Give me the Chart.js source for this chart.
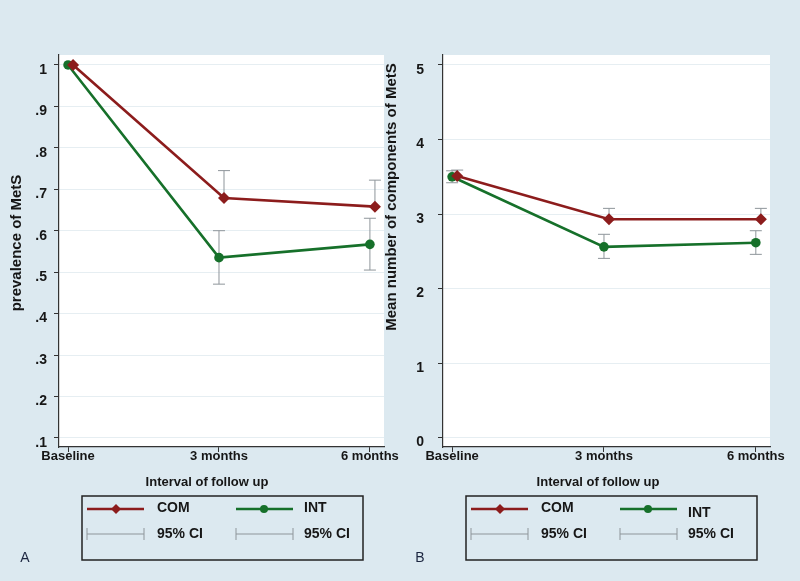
<!DOCTYPE html>
<html>
<head>
<meta charset="utf-8">
<title>MetS follow up</title>
<script src="https://cdn.jsdelivr.net/npm/chart.js@4.4.1/dist/chart.umd.min.js"></script>
<style>
  html, body { margin: 0; padding: 0; background: #dce9f0; }
  #wrap { position: relative; width: 800px; height: 581px; overflow: hidden; }
  canvas { position: absolute; top: 0; }
  #panelA { left: 0; }
  #panelB { left: 380px; }
</style>
</head>
<body>
<div id="wrap">
  <canvas id="panelA" width="420" height="581"></canvas>
  <canvas id="panelB" width="420" height="581"></canvas>
</div>
<script>
// ---- data ----
const categories = ["Baseline", "3 months", "6 months"];
const monthsX = [0, 3, 6];
const seriesNames = ["COM", "INT"];
const ciLabel = "95% CI";

// panel A: prevalence of MetS
const comPrev = [1.0, 0.679, 0.658];
const comPrevHi = [null, 0.745, 0.722];
const intPrev = [1.0, 0.535, 0.567];
const intPrevLo = [null, 0.471, 0.505];
const intPrevHi = [null, 0.600, 0.630];
const yTicksA = [0.1, 0.2, 0.3, 0.4, 0.5, 0.6, 0.7, 0.8, 0.9, 1];
const yLabelsA = [".1", ".2", ".3", ".4", ".5", ".6", ".7", ".8", ".9", "1"];

// panel B: mean number of components of MetS
const comComp = [3.51, 2.93, 2.93];
const comCompHi = [3.59, 3.076, 3.076];
const intComp = [3.50, 2.56, 2.615];
const intCompLo = [3.42, 2.405, 2.459];
const intCompHi = [3.58, 2.728, 2.776];
const yTicksB = [0, 1, 2, 3, 4, 5];
const yLabelsB = ["0", "1", "2", "3", "4", "5"];

// ---- styling ----
const COM_COLOR = "#8c1c1c";
const INT_COLOR = "#16702a";
const CI_COLOR = "#8e959a";
const INK = "#161616";
const FONT = '"Liberation Sans", Arial, sans-serif';
const COM_SHIFT = 0.1; // COM drawn slightly right of INT, as in the figure

function meanPoints(ys, shift) {
    return monthsX.map((x, i) => ({ x: x + shift, y: ys[i] }));
}

// vertical CI segments separated by gaps
function ciPoints(lo, hi, shift) {
    const pts = [];
    monthsX.forEach((x, i) => {
        if (hi[i] == null) return;
        pts.push({ x: x + shift, y: lo[i] }, { x: x + shift, y: hi[i] }, { x: x + shift, y: null });
    });
    return pts;
}

function capRadii(pts, lowerCap) {
    return pts.map((p, i) => {
        const k = i % 3;
        if (k === 2) return 0;
        if (k === 0) return lowerCap ? 6 : 0;
        return 6;
    });
}

/**
 * Titles, legend box and panel letter, drawn the Stata way
 */
const stataDecor = {
    id: "stataDecor",
    beforeDraw(chart) {
        const { ctx, chartArea: a } = chart;
        ctx.save();
        ctx.fillStyle = "#ffffff";
        ctx.fillRect(a.left, a.top, a.right - a.left, a.bottom - a.top);
        ctx.restore();
    },
    afterDraw(chart, args, o) {
        const ctx = chart.ctx;
        ctx.save();
        ctx.fillStyle = INK;
        ctx.textBaseline = "middle";

        // y title
        ctx.font = `bold 15px ${FONT}`;
        ctx.textAlign = "center";
        ctx.save();
        ctx.translate(o.yTitleX, o.yTitleY);
        ctx.rotate(-Math.PI / 2);
        ctx.fillText(o.yTitle, 0, 0);
        ctx.restore();

        // x title
        ctx.font = `bold 13px ${FONT}`;
        ctx.fillText("Interval of follow up", o.xTitleX, 482);

        // legend box
        const L = o.legendLeft, T = 496, W = o.legendWidth, H = 64;
        ctx.strokeStyle = "#222";
        ctx.lineWidth = 1.5;
        ctx.strokeRect(L, T, W, H);

        const row1 = T + 13, row2 = T + 38;
        const cols = [
            { x1: L + 5, x2: L + 62, mx: L + 34, tx: L + 75, color: COM_COLOR, marker: "diamond" },
            { x1: L + 154, x2: L + 211, mx: L + 182, tx: L + 222, color: INT_COLOR, marker: "circle" },
        ];
        ctx.font = `bold 14px ${FONT}`;
        ctx.textAlign = "left";
        cols.forEach((c, i) => {
            ctx.strokeStyle = c.color;
            ctx.lineWidth = 2.5;
            ctx.beginPath();
            ctx.moveTo(c.x1, row1);
            ctx.lineTo(c.x2, row1);
            ctx.stroke();
            ctx.fillStyle = c.color;
            ctx.beginPath();
            if (c.marker === "diamond") {
                ctx.moveTo(c.mx, row1 - 5);
                ctx.lineTo(c.mx + 5, row1);
                ctx.lineTo(c.mx, row1 + 5);
                ctx.lineTo(c.mx - 5, row1);
                ctx.closePath();
            } else {
                ctx.arc(c.mx, row1, 4, 0, Math.PI * 2);
            }
            ctx.fill();

            // CI sample
            ctx.strokeStyle = CI_COLOR;
            ctx.lineWidth = 1;
            ctx.beginPath();
            ctx.moveTo(c.x1, row2);
            ctx.lineTo(c.x2, row2);
            ctx.moveTo(c.x1, row2 - 6);
            ctx.lineTo(c.x1, row2 + 6);
            ctx.moveTo(c.x2, row2 - 6);
            ctx.lineTo(c.x2, row2 + 6);
            ctx.stroke();

            ctx.fillStyle = INK;
            ctx.fillText(seriesNames[i], c.tx, row1 - 1 + (i === 1 ? o.intTextDrop : 0));
            ctx.fillText(ciLabel, c.tx, row2);
        });

        // panel letter
        ctx.font = `14px ${FONT}`;
        ctx.fillStyle = "#1c2640";
        ctx.textAlign = "center";
        ctx.fillText(o.letter, o.letterX, 558);
        ctx.restore();
    },
};

function makePanel(canvasId, p) {
    const comCi = ciPoints(p.comMean, p.comHi, COM_SHIFT);
    const intCi = ciPoints(p.intLo, p.intHi, 0);
    return new Chart(document.getElementById(canvasId), {
        type: "line",
        data: {
            datasets: [
                {
                    label: seriesNames[0],
                    data: meanPoints(p.comMean, COM_SHIFT),
                    borderColor: COM_COLOR,
                    backgroundColor: COM_COLOR,
                    borderWidth: 2.6,
                    pointStyle: "rectRot",
                    pointRadius: 6,
                    pointBorderWidth: 0,
                },
                {
                    label: seriesNames[1],
                    data: meanPoints(p.intMean, 0),
                    borderColor: INT_COLOR,
                    backgroundColor: INT_COLOR,
                    borderWidth: 2.6,
                    pointStyle: "circle",
                    pointRadius: 4.8,
                    pointBorderWidth: 0,
                },
                {
                    label: "COM CI",
                    data: comCi,
                    borderColor: CI_COLOR,
                    borderWidth: 1,
                    pointStyle: "line",
                    pointRadius: capRadii(comCi, false),
                    pointBorderColor: CI_COLOR,
                    pointBorderWidth: 1,
                    spanGaps: false,
                },
                {
                    label: "INT CI",
                    data: intCi,
                    borderColor: CI_COLOR,
                    borderWidth: 1,
                    pointStyle: "line",
                    pointRadius: capRadii(intCi, true),
                    pointBorderColor: CI_COLOR,
                    pointBorderWidth: 1,
                    spanGaps: false,
                },
            ],
        },
        options: {
            responsive: false,
            animation: false,
            events: [],
            layout: { padding: { left: 0, top: 55, right: p.padRight, bottom: 94 } },
            plugins: {
                legend: { display: false },
                tooltip: { enabled: false },
                stataDecor: p.decor,
            },
            scales: {
                x: {
                    type: "linear",
                    min: -0.18,
                    max: 6.28,
                    afterBuildTicks: (s) => { s.ticks = monthsX.map((v) => ({ value: v })); },
                    afterFit: (s) => { s.height = 40; },
                    ticks: {
                        autoSkip: false,
                        maxRotation: 0,
                        padding: -3,
                        color: INK,
                        font: { family: FONT, size: 13, weight: "bold" },
                        callback: (v, i) => categories[i],
                    },
                    grid: { drawOnChartArea: false, tickLength: 5, tickColor: "#333" },
                    border: { color: "#333", width: 1.2 },
                },
                y: {
                    type: "linear",
                    min: p.yMin,
                    max: p.yMax,
                    afterBuildTicks: (s) => { s.ticks = p.yTicks.map((v) => ({ value: v })); },
                    afterFit: (s) => { s.width = p.yWidth; },
                    ticks: {
                        padding: p.labelPad,
                        labelOffset: 5,
                        color: INK,
                        font: { family: FONT, size: 14, weight: "bold" },
                        callback: (v, i) => p.yLabels[i],
                    },
                    grid: { color: "#e6eef2", lineWidth: 1, tickLength: 5, tickColor: "#333" },
                    border: { color: "#333", width: 1.2 },
                },
            },
        },
        plugins: [stataDecor],
    });
}

makePanel("panelA", {
    comMean: comPrev, comHi: comPrevHi,
    intMean: intPrev, intLo: intPrevLo, intHi: intPrevHi,
    yTicks: yTicksA, yLabels: yLabelsA,
    yMin: 0.078, yMax: 1.024,
    yWidth: 59, padRight: 36, labelPad: 7,
    decor: {
        yTitle: "prevalence of MetS", yTitleX: 17, yTitleY: 243,
        xTitleX: 207, legendLeft: 82, legendWidth: 281,
        letter: "A", letterX: 25, intTextDrop: 0,
    },
});

makePanel("panelB", {
    comMean: comComp, comHi: comCompHi,
    intMean: intComp, intLo: intCompLo, intHi: intCompHi,
    yTicks: yTicksB, yLabels: yLabelsB,
    yMin: -0.126, yMax: 5.134,
    yWidth: 63, padRight: 30, labelPad: 14,
    decor: {
        yTitle: "Mean number of components of MetS", yTitleX: 12, yTitleY: 197,
        xTitleX: 218, legendLeft: 86, legendWidth: 291,
        letter: "B", letterX: 40, intTextDrop: 5,
    },
});
</script>
</body>
</html>
